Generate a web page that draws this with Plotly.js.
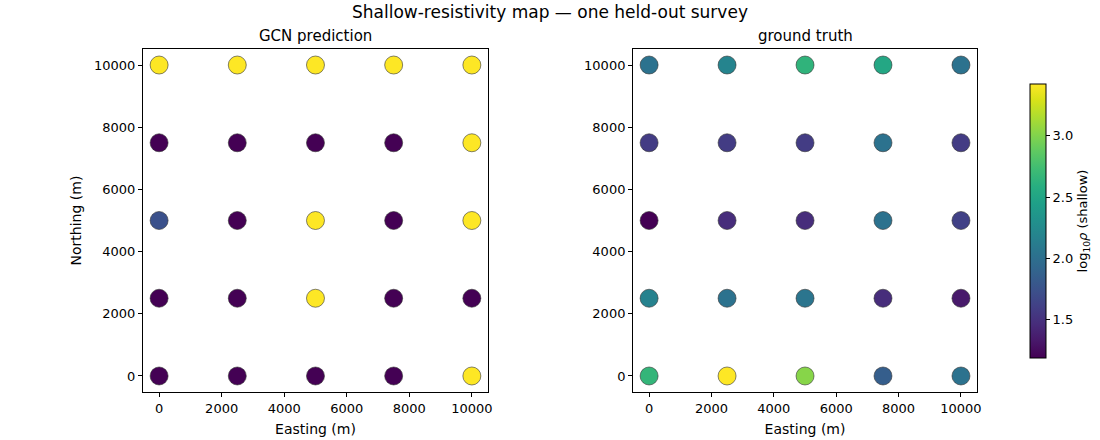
<!DOCTYPE html>
<html><head><meta charset="utf-8">
<script src="https://cdn.plot.ly/plotly-3.0.1.min.js"></script>
<style>body{margin:0;background:#fff}#c{width:1100px;height:440px}</style>
</head><body><div id="c"></div>
<script>
// Survey station coordinates (row by row, northing from 0 to 10000)
const easting  = [0,2500,5000,7500,10000, 0,2500,5000,7500,10000, 0,2500,5000,7500,10000, 0,2500,5000,7500,10000, 0,2500,5000,7500,10000];
const northing = [0,0,0,0,0, 2500,2500,2500,2500,2500, 5000,5000,5000,5000,5000, 7500,7500,7500,7500,7500, 10000,10000,10000,10000,10000];
// log10 rho (shallow)
const predicted = [1.19,1.19,1.19,1.19,3.42, 1.19,1.19,3.42,1.19,1.19, 1.74,1.19,3.42,1.19,3.42, 1.19,1.19,1.19,1.19,3.42, 3.42,3.42,3.42,3.42,3.42];
const truth     = [2.66,3.42,3.02,1.85,2.03, 2.17,2.03,2.06,1.47,1.34, 1.19,1.47,1.47,2.03,1.62, 1.58,1.58,1.58,2.03,1.58, 2.03,2.19,2.64,2.52,2.03];
const cmin = 1.19, cmax = 3.42;
const colorbarTicks = [1.5,2.0,2.5,3.0];

const F = 'DejaVu Sans, sans-serif';
const mk = (vals) => ({size:18, color:vals, coloraxis:'coloraxis', line:{color:'#333', width:0.6}});
const traces = [
  {type:'scatter', mode:'markers', x:easting, y:northing, xaxis:'x', yaxis:'y', marker:mk(predicted), hoverinfo:'x+y'},
  {type:'scatter', mode:'markers', x:easting, y:northing, xaxis:'x2', yaxis:'y2', marker:mk(truth), hoverinfo:'x+y'}
];
const ax = (dom, anchor, title) => ({
  domain:dom, anchor:anchor, range:[-515,10515], tickvals:[0,2000,4000,6000,8000,10000], tickformat:'d',
  showline:true, mirror:true, linecolor:'#000', linewidth:1, ticks:'outside', ticklen:4, tickcolor:'#000',
  showgrid:false, zeroline:false, automargin:false, tickfont:{family:F,size:13,color:'#000'},
  title:{text:title, font:{family:F,size:14,color:'#000'}, standoff:9}
});
const layout = {
  width:1100, height:440, margin:{l:0,r:0,t:0,b:0}, paper_bgcolor:'#fff', plot_bgcolor:'#fff',
  showlegend:false, font:{family:F,color:'#000'},
  xaxis: ax([0.13,0.4436],'y','Easting (m)'),
  yaxis: ax([0.1091,0.8886],'x','Northing (m)'),
  xaxis2: ax([0.5755,0.8882],'y2','Easting (m)'),
  yaxis2: ax([0.1091,0.8886],'x2',''),
  coloraxis:{colorscale:'Viridis', cmin:cmin, cmax:cmax,
    colorbar:{x:0.9364, xanchor:'left', xpad:0, ypad:0, y:0.4977, yanchor:'middle', len:0.6227, lenmode:'fraction',
      thickness:16, thicknessmode:'pixels', outlinewidth:1, outlinecolor:'#000', ticks:'outside', ticklen:4, tickcolor:'#000',
      tickvals:colorbarTicks, tickformat:'.1f', tickfont:{family:F,size:13,color:'#000'},
      title:{text:'log<sub>10</sub><i>ρ</i> (shallow)', side:'right', font:{family:F,size:13,color:'#000'}}}},
  annotations:[
    {text:'Shallow-resistivity map — one held-out survey', xref:'paper', yref:'paper', x:0.5, y:1-12/440, xanchor:'center', yanchor:'middle', showarrow:false, font:{family:F,size:17,color:'#000'}},
    {text:'GCN prediction', xref:'paper', yref:'paper', x:(0.13+0.4436)/2, y:1-36/440, xanchor:'center', yanchor:'middle', showarrow:false, font:{family:F,size:15,color:'#000'}},
    {text:'ground truth', xref:'paper', yref:'paper', x:(0.5755+0.8882)/2, y:1-36/440, xanchor:'center', yanchor:'middle', showarrow:false, font:{family:F,size:15,color:'#000'}}
  ]
};
layout.yaxis.title.standoff = 9;
Plotly.newPlot('c', traces, layout, {displayModeBar:false, staticPlot:true});
</script></body></html>
